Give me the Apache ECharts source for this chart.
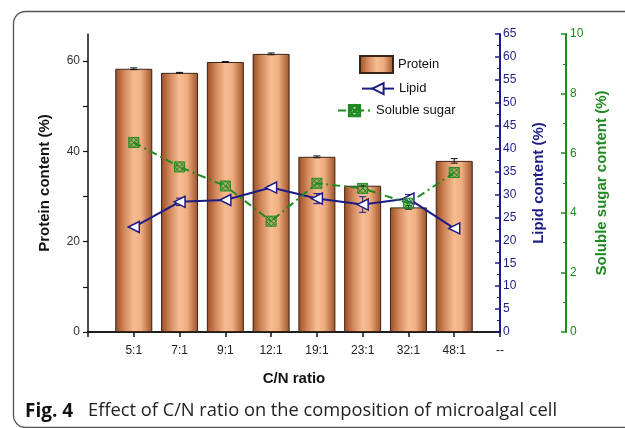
<!DOCTYPE html>
<html><head><meta charset="utf-8">
<script src="https://cdn.jsdelivr.net/npm/echarts@6/dist/echarts.min.js"></script>
<style>html,body{margin:0;padding:0;background:#fff}#c{width:625px;height:428px}</style>
</head><body><div id="c"></div>
<script>
var categories = ['5:1','7:1','9:1','12:1','19:1','23:1','32:1','48:1'];
var protein = [58.3, 57.4, 59.8, 61.6, 38.8, 32.4, 27.6, 37.9];
var proteinErr = [0.2, 0.1, 0.1, 0.2, 0.2, 0.1, 0.4, 0.5];
var lipid = [22.9, 28.4, 28.8, 31.5, 29.1, 27.8, 29.1, 22.6];
var lipidErr = [0.3, 0.8, 0.3, 0.4, 1.1, 1.7, 0.9, 0.3];
var sugar = [6.36, 5.54, 4.90, 3.72, 4.99, 4.82, 4.32, 5.35];
var leftTicks = [0, 20, 40, 60];

var xCats = [''].concat(categories).concat(['--']);
function pad(arr){ return ['-'].concat(arr).concat(['-']); }
function errData(vals, errs){ return vals.map(function(v,i){ return [i+1, v, errs[i]]; }); }

var NAVY = '#1c1c86', GREEN = '#1f8a1f', FONT = 'Liberation Sans';
var barGrad = new echarts.graphic.LinearGradient(0,0,1,0,[
  {offset:0,color:'#9a4c24'},{offset:0.25,color:'#d38a5c'},{offset:0.5,color:'#f6bd93'},
  {offset:0.7,color:'#efae80'},{offset:1,color:'#9e5028'}]);

function errRender(color){
  return function(params, api){
    var x = api.value(0), v = api.value(1), e = api.value(2);
    var hi = api.coord([x, v+e]), lo = api.coord([x, v-e]);
    var w = 3.5, st = {stroke: color, lineWidth: 1};
    return {type:'group', children:[
      {type:'line', shape:{x1:hi[0],y1:hi[1],x2:lo[0],y2:lo[1]}, style:st},
      {type:'line', shape:{x1:hi[0]-w,y1:hi[1],x2:hi[0]+w,y2:hi[1]}, style:st},
      {type:'line', shape:{x1:lo[0]-w,y1:lo[1],x2:lo[0]+w,y2:lo[1]}, style:st}
    ]};
  };
}

var legText = {fontFamily:FONT, fontSize:13, color:'#111'};
var chart = echarts.init(document.getElementById('c'), null, {renderer:'canvas'});
chart.setOption({
  animation:false,
  textStyle:{fontFamily:FONT},
  grid:{left:88, right:125, top:34, bottom:96},
  legend:[
    {data:[{name:'Protein', icon:'rect'}], left:359, top:55, padding:0, itemWidth:33, itemHeight:17, textStyle:legText},
    {data:['Lipid'], left:361, top:82, padding:0, itemWidth:32, itemHeight:14, textStyle:legText},
    {data:['Soluble sugar'], left:337, top:104, padding:0, itemWidth:33, itemHeight:14, textStyle:legText}
  ],
  xAxis:[{
    type:'category', data:xCats, boundaryGap:false,
    axisLine:{lineStyle:{color:'#111', width:1.5}},
    axisTick:{alignWithLabel:true, length:5, lineStyle:{color:'#111', width:1.5}},
    axisLabel:{interval:0, color:'#222', fontSize:12, margin:13, fontFamily:FONT},
    name:'C/N ratio', nameLocation:'middle', nameGap:39,
    nameTextStyle:{fontFamily:FONT, fontSize:15, fontWeight:'bold', color:'#111'}
  },{
    type:'category', data:xCats, boundaryGap:false, position:'top',
    axisLine:{lineStyle:{color:'#111', width:1.5}}, axisTick:{show:false}, axisLabel:{show:false}
  }],
  yAxis:[{
    type:'value', position:'left', min:0, max:66,
    axisLine:{show:true, lineStyle:{color:'#111', width:1.5}},
    axisTick:{show:true, length:5, customValues:[0,10,20,30,40,50,60], lineStyle:{color:'#111', width:1.2}},
    axisLabel:{customValues:leftTicks, color:'#333', fontSize:12, margin:8, fontFamily:FONT},
    splitLine:{show:false},
    name:'Protein content (%)', nameLocation:'middle', nameGap:36, nameRotate:90,
    nameTextStyle:{fontFamily:FONT, fontSize:15, fontWeight:'bold', color:'#111'}
  },{
    type:'value', position:'right', offset:0, min:0, max:65, interval:5,
    axisLine:{show:true, lineStyle:{color:NAVY, width:2}},
    axisTick:{show:true, inside:true, length:5, lineStyle:{color:NAVY, width:1.5}},
    minorTick:{show:true, splitNumber:2, length:3, lineStyle:{color:NAVY, width:1}},
    axisLabel:{color:NAVY, fontSize:12, margin:3, fontFamily:FONT},
    splitLine:{show:false},
    name:'Lipid content (%)', nameLocation:'middle', nameGap:31, nameRotate:90,
    nameTextStyle:{fontFamily:FONT, fontSize:15, fontWeight:'bold', color:NAVY}
  },{
    type:'value', position:'right', offset:66, min:0, max:10, interval:2,
    axisLine:{show:true, lineStyle:{color:GREEN, width:2}},
    axisTick:{show:true, inside:true, length:5, lineStyle:{color:GREEN, width:1.5}},
    minorTick:{show:true, splitNumber:2, length:3, lineStyle:{color:GREEN, width:1}},
    axisLabel:{color:GREEN, fontSize:12, margin:4, fontFamily:FONT},
    splitLine:{show:false},
    name:'Soluble sugar content (%)', nameLocation:'middle', nameGap:20, nameRotate:90,
    nameTextStyle:{fontFamily:FONT, fontSize:15, fontWeight:'bold', color:GREEN}
  }],
  series:[
    {name:'Protein', type:'bar', data:pad(protein), barWidth:37, yAxisIndex:0,
     itemStyle:{color:barGrad, borderColor:'#3a2416', borderWidth:1}},
    {type:'custom', yAxisIndex:0, data:errData(protein, proteinErr), renderItem:errRender('#111'), z:3,
     encode:{x:0, y:1}},
    {name:'Lipid', type:'line', data:pad(lipid), yAxisIndex:1, z:5,
     symbol:'triangle', symbolRotate:90, symbolSize:11, showAllSymbol:true,
     lineStyle:{color:NAVY, width:2},
     itemStyle:{color:'#fff', borderColor:NAVY, borderWidth:1.5}},
    {type:'custom', yAxisIndex:1, data:errData(lipid, lipidErr), renderItem:errRender(NAVY), z:4,
     encode:{x:0, y:1}},
    {name:'Soluble sugar', type:'line', data:pad(sugar), yAxisIndex:2, z:6,
     symbol:'path://M0,0L10,0L10,10L0,10Z M0,0L10,10M10,0L0,10 M0,5L5,0L10,5L5,10Z', symbolSize:10,
     lineStyle:{color:GREEN, width:2, type:[8,4,2,4]},
     itemStyle:{color:'rgba(31,138,31,0.35)', borderColor:GREEN, borderWidth:1}}
  ],
  graphic:[
    {type:'rect', left:11, top:9, shape:{width:700, height:416, r:12}, z:-10,
     style:{fill:'none', stroke:'#555', lineWidth:1.3}},
    {type:'text', left:25, top:402, style:{text:'Fig. 4', font:'bold 19px "Open Sans"', fill:'#111'}},
    {type:'text', left:88, top:402, style:{text:'Effect of C/N ratio on the composition of microalgal cell', font:'18.3px "Open Sans"', fill:'#222'}}
  ]
});
</script></body></html>
